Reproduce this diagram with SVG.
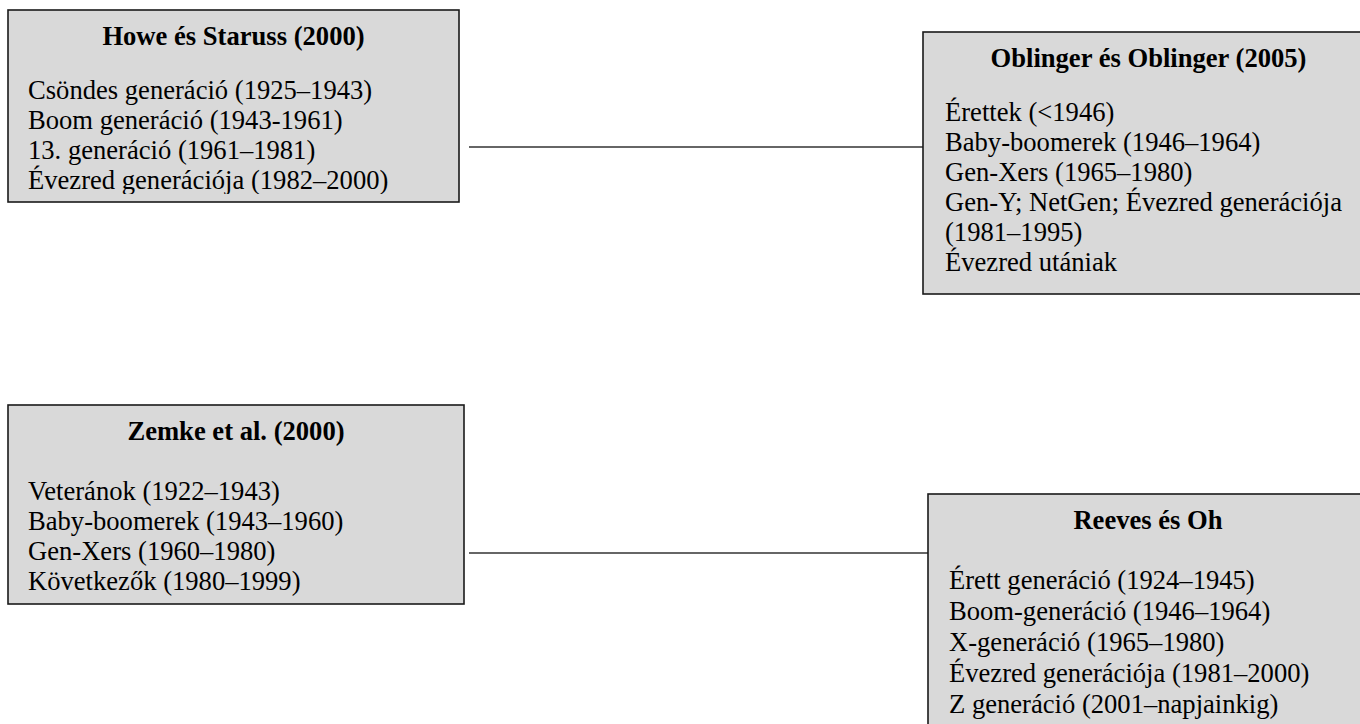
<svg xmlns="http://www.w3.org/2000/svg" width="1360" height="724" viewBox="0 0 1360 724">
<style>
.box{fill:#d9d9d9;stroke:#1a1a1a;stroke-width:1.6}
.t{font-family:"Liberation Serif","Times New Roman",serif;font-size:26.6px;fill:#000}
.h{font-weight:bold;text-anchor:middle}
.conn{stroke:#333;stroke-width:1.5;fill:none}
</style>
<defs>
<clipPath id="c1"><rect x="8" y="10" width="451" height="184"/></clipPath>
</defs>
<rect x="0" y="0" width="1360" height="724" fill="#fff"/>
<g id="connectors">
<line class="conn" x1="469" y1="147" x2="923" y2="147"/>
<line class="conn" x1="469" y1="553" x2="928" y2="553"/>
</g>
<g id="howe">
<rect class="box" x="8" y="10" width="451" height="192"/>
<text class="t h" x="233.5" y="45">Howe és Staruss (2000)</text>
<g clip-path="url(#c1)">
<text class="t" x="28" y="99">Csöndes generáció (1925–1943)</text>
<text class="t" x="28" y="129">Boom generáció (1943-1961)</text>
<text class="t" x="28" y="159">13. generáció (1961–1981)</text>
<text class="t" x="28" y="189">Évezred generációja (1982–2000)</text>
</g>
</g>
<g id="oblinger">
<rect class="box" x="923" y="32" width="451" height="262"/>
<text class="t h" x="1148.5" y="67">Oblinger és Oblinger (2005)</text>
<text class="t" x="945" y="121">Érettek (&lt;1946)</text>
<text class="t" x="945" y="151">Baby-boomerek (1946–1964)</text>
<text class="t" x="945" y="181">Gen-Xers (1965–1980)</text>
<text class="t" x="945" y="211">Gen-Y; NetGen; Évezred generációja</text>
<text class="t" x="945" y="241">(1981–1995)</text>
<text class="t" x="945" y="271">Évezred utániak</text>
</g>
<g id="zemke">
<rect class="box" x="8" y="405" width="456" height="199"/>
<text class="t h" x="236" y="440">Zemke et al. (2000)</text>
<text class="t" x="28" y="500">Veteránok (1922–1943)</text>
<text class="t" x="28" y="530">Baby-boomerek (1943–1960)</text>
<text class="t" x="28" y="560">Gen-Xers (1960–1980)</text>
<text class="t" x="28" y="590">Következők (1980–1999)</text>
</g>
<g id="reeves">
<rect class="box" x="928" y="494" width="440" height="250"/>
<text class="t h" x="1148" y="529">Reeves és Oh</text>
<text class="t" x="949" y="589">Érett generáció (1924–1945)</text>
<text class="t" x="949" y="620">Boom-generáció (1946–1964)</text>
<text class="t" x="949" y="651">X-generáció (1965–1980)</text>
<text class="t" x="949" y="682">Évezred generációja (1981–2000)</text>
<text class="t" x="949" y="713">Z generáció (2001–napjainkig)</text>
</g>
</svg>
